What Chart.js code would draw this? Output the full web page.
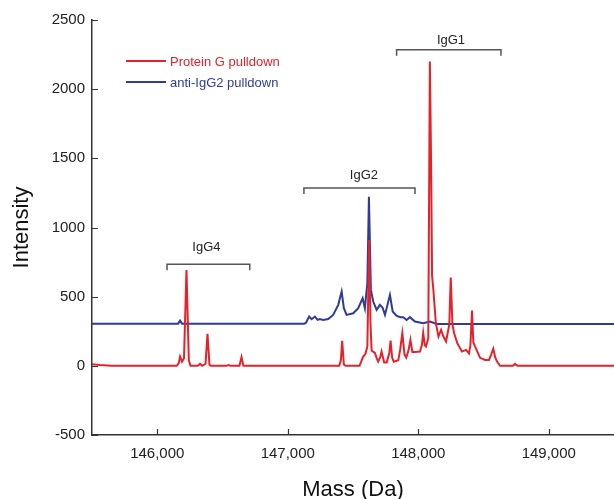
<!DOCTYPE html>
<html>
<head>
<meta charset="utf-8">
<script src="https://cdn.jsdelivr.net/npm/chart.js@4.4.1/dist/chart.umd.min.js"></script>
<style>
  body { margin: 0; background: #fff; }
  #wrap { width: 614px; height: 499px; }
</style>
</head>
<body>
<div id="wrap"><canvas id="massChart" width="614" height="499"></canvas></div>
<script>
// spectra (mass in Da, intensity)
const redMass = [145500, 145560, 145650, 146150, 146165, 146175, 146190, 146205, 146224, 146242, 146255,
  146310, 146328, 146345, 146370, 146385, 146400, 146410, 146530, 146546, 146560, 146630, 146646, 146660,
  147395, 147407, 147417, 147430, 147442, 147550, 147578, 147595, 147610, 147624, 147634, 147643, 147668,
  147680, 147693, 147708, 147719, 147739, 147758, 147778, 147788, 147800, 147812, 147847, 147862, 147878,
  147895, 147908, 147925, 147940, 147955, 147975, 148013, 148028, 148038, 148050, 148059, 148077, 148089,
  148098, 148106, 148115, 148135, 148155, 148175, 148193, 148213, 148238, 148249, 148262, 148275, 148299,
  148335, 148366, 148389, 148400, 148412, 148422, 148435, 148474, 148512, 148542, 148558, 148575, 148590,
  148604, 148627, 148725, 148742, 148760, 149500];
const redIntensity = [12, 6, 0, 0, 20, 67, 30, 55, 693, 40, 0,
  0, 14, 0, 15, 231, 8, 0, 0, 5, 0, 0, 63, 0,
  0, 40, 181, 10, 0, 0, 67, 85, 140, 910, 300, 110, 94,
  60, 31, 60, 103, 25, 25, 90, 183, 60, 30, 40, 120, 236,
  80, 60, 110, 188, 100, 100, 103, 150, 238, 150, 140, 200, 2200,
  1500, 650, 560, 308, 212, 260, 212, 176, 300, 638, 300, 236, 164,
  103, 115, 90, 150, 400, 170, 140, 58, 43, 43, 80, 123, 60,
  31, 0, 0, 14, 0, 0];

const blueMass = [145500, 146160, 146175, 146190, 147125, 147139, 147164, 147183, 147208, 147229, 147246,
  147272, 147310, 147348, 147387, 147413, 147430, 147451, 147502, 147540, 147574, 147591, 147610, 147622,
  147637, 147655, 147681, 147706, 147727, 147745, 147783, 147804, 147834, 147865, 147885, 147911, 147936,
  147975, 148038, 148090, 148141, 149500];
const blueIntensity = [305, 305, 327, 305, 305, 310, 356, 337, 356, 332, 338,
  332, 338, 368, 441, 537, 417, 368, 380, 417, 489, 417, 600, 1223,
  549, 465, 405, 441, 420, 368, 513, 393, 361, 352, 352, 332, 352,
  320, 308, 320, 303, 303];

const seriesNames = ['Protein G pulldown', 'anti-IgG2 pulldown'];
const seriesColors = ['#e5222a', '#2f3c97'];

const xTicks = [146000, 147000, 148000, 149000];
const yTicks = [-500, 0, 500, 1000, 1500, 2000, 2500];

// isotype brackets
const bracketLabels = ['IgG4', 'IgG2', 'IgG1'];
const bracketStart = [146075, 147124, 147834];
const bracketEnd = [146709, 147975, 148634];
const bracketLevel = [735, 1286, 2285];
const bracketLabelMass = [146377, 147584, 148251];
const bracketLabelLevel = [853, 1380, 2355];

const toPoints = (xs, ys) => xs.map((x, i) => ({ x: x, y: ys[i] }));

const fontFamily = '"Liberation Sans", Arial, sans-serif';

const decorations = {
  id: 'decorations',
  afterDraw(chart) {
    const ctx = chart.ctx;
    const xs = chart.scales.x, ys = chart.scales.y;
    const area = chart.chartArea;
    ctx.save();

    // inward tick marks
    ctx.strokeStyle = '#333';
    ctx.lineWidth = 1.2;
    ctx.beginPath();
    yTicks.forEach(v => {
      const py = Math.round(ys.getPixelForValue(v)) + 0.5;
      ctx.moveTo(area.left, py);
      ctx.lineTo(area.left + 6, py);
    });
    xTicks.forEach(v => {
      const px = Math.round(xs.getPixelForValue(v)) + 0.5;
      ctx.moveTo(px, area.bottom);
      ctx.lineTo(px, area.bottom - 6);
    });
    ctx.stroke();

    // brackets
    ctx.strokeStyle = '#555';
    ctx.lineWidth = 1.5;
    ctx.fillStyle = '#222';
    ctx.font = '13px ' + fontFamily;
    ctx.textAlign = 'center';
    ctx.textBaseline = 'middle';
    bracketLabels.forEach((lab, i) => {
      const x1 = xs.getPixelForValue(bracketStart[i]);
      const x2 = xs.getPixelForValue(bracketEnd[i]);
      const y = ys.getPixelForValue(bracketLevel[i]);
      ctx.beginPath();
      ctx.moveTo(x1, y + 6);
      ctx.lineTo(x1, y);
      ctx.lineTo(x2, y);
      ctx.lineTo(x2, y + 6);
      ctx.stroke();
      ctx.fillText(lab, xs.getPixelForValue(bracketLabelMass[i]), ys.getPixelForValue(bracketLabelLevel[i]));
    });

    // legend inside the plot
    ctx.textAlign = 'left';
    chart.data.datasets.forEach((ds, i) => {
      const y = 61 + i * 21;
      ctx.strokeStyle = ds.borderColor;
      ctx.lineWidth = 2;
      ctx.beginPath();
      ctx.moveTo(126, y);
      ctx.lineTo(166, y);
      ctx.stroke();
      ctx.fillStyle = ds.borderColor;
      ctx.fillText(ds.label, 170, y + 1);
    });
    ctx.restore();
  }
};

const chart = new Chart(document.getElementById('massChart'), {
  type: 'line',
  data: {
    datasets: [
      {
        label: seriesNames[0],
        data: toPoints(redMass, redIntensity),
        borderColor: seriesColors[0],
        borderWidth: 2,
        pointRadius: 0,
        tension: 0
      },
      {
        label: seriesNames[1],
        data: toPoints(blueMass, blueIntensity),
        borderColor: seriesColors[1],
        borderWidth: 2,
        pointRadius: 0,
        tension: 0
      }
    ]
  },
  options: {
    responsive: false,
    animation: false,
    layout: { padding: { top: 20, right: 0, left: 0, bottom: 0 } },
    plugins: { legend: { display: false }, tooltip: { enabled: false } },
    scales: {
      x: {
        type: 'linear',
        min: 145500,
        max: 149500,
        afterBuildTicks: s => { s.ticks = xTicks.map(v => ({ value: v })); },
        afterFit: s => { s.height = 64; },
        grid: { drawOnChartArea: false, drawTicks: false },
        border: { color: '#333', width: 1.5 },
        ticks: {
          padding: 10,
          color: '#222',
          font: { family: fontFamily, size: 15 },
          maxRotation: 0,
          callback: v => v.toLocaleString('en-US')
        },
        title: {
          display: true,
          text: 'Mass (Da)',
          color: '#111',
          font: { family: fontFamily, size: 22 },
          padding: { top: 4, bottom: -4 }
        }
      },
      y: {
        min: -500,
        max: 2500,
        afterBuildTicks: s => { s.ticks = yTicks.map(v => ({ value: v })); },
        afterFit: s => { s.width = 92; },
        grid: { drawOnChartArea: false, drawTicks: false },
        border: { color: '#333', width: 1.5 },
        ticks: {
          padding: 7,
          color: '#222',
          font: { family: fontFamily, size: 15 },
          callback: v => String(v)
        },
        title: {
          display: true,
          text: 'Intensity',
          color: '#111',
          font: { family: fontFamily, size: 22 },
          padding: { top: 9, bottom: 0 }
        }
      }
    }
  },
  plugins: [decorations]
});
</script>
</body>
</html>
